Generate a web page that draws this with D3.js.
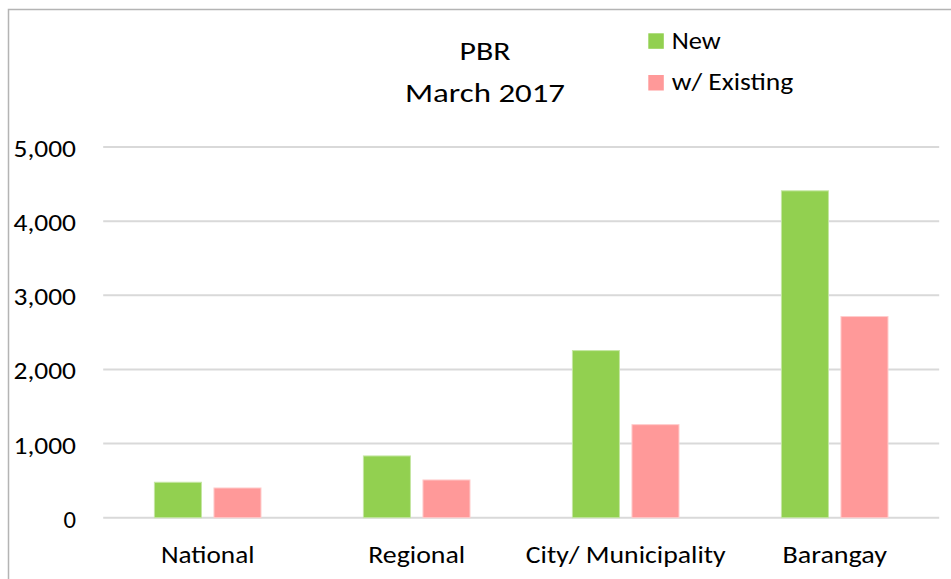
<!DOCTYPE html>
<html><head><meta charset="utf-8">
<script src="https://cdn.jsdelivr.net/npm/d3@7"></script>
<style>body{margin:0;background:#fff}svg{display:block}text{font-family:Carlito,Calibri,Lato,"Open Sans",sans-serif;fill:#000}</style>
</head><body><svg id="c" width="951" height="579"></svg>
<script>
const categories = ["National", "Regional", "City/ Municipality", "Barangay"];
const seriesNames = ["New", "w/ Existing"];
const newValues = [478, 833, 2254, 4409];
const existingValues = [401, 509, 1255, 2713];
const yTicks = [0, 1000, 2000, 3000, 4000, 5000];
const titleLines = ["PBR", "March 2017"];
const colors = ["#92d050", "#ff9999"];
const strokes = ["#c5e6a3", "#ffcccc"];

const FONT = "Carlito,Calibri,Lato,'Open Sans',sans-serif";
// target rendered widths (to mimic the reference typeface)
const xLabelW = {"National":93.5, "Regional":97, "City/ Municipality":200, "Barangay":104.6};
const yLabelW = d => d === 0 ? 12.5 : 62.5;

const svg = d3.select("#c");
svg.append("path").attr("d","M8.5,579 L8.5,9.5 L951,9.5").attr("fill","none").attr("stroke","#b4b4b4").attr("stroke-width",1.5);

const x0 = d3.scaleBand().domain(categories).range([103.2, 939.2]).paddingInner(0).paddingOuter(0);
const x1 = d3.scaleBand().domain(seriesNames).range([51.2, 209-51.2]).paddingInner(0.21);
const y = d3.scaleLinear().domain([0,5000]).range([517.7,147]);

svg.append("g").selectAll("line").data(yTicks).join("line")
  .attr("x1",103.2).attr("x2",939.2).attr("y1",d=>y(d)).attr("y2",d=>y(d))
  .attr("stroke","#d9d9d9").attr("stroke-width",2);

const yAxis = d3.axisLeft(y).tickValues(yTicks).tickFormat(d3.format(",")).tickSize(0).tickPadding(0);
const ya = svg.append("g").attr("transform","translate(76,0)").call(yAxis);
ya.select(".domain").remove();
ya.selectAll("text").attr("font-size",25).attr("font-family",FONT).attr("fill","#000").attr("dy","0.38em")
  .attr("textLength",d=>yLabelW(d)).attr("lengthAdjust","spacingAndGlyphs");

const data = categories.map((c,i)=>({c, vals:[newValues[i], existingValues[i]]}));
const g = svg.append("g").selectAll("g").data(data).join("g").attr("transform",d=>`translate(${x0(d.c)},0)`);
g.selectAll("rect").data(d=>d.vals.map((v,j)=>({s:seriesNames[j], v, j}))).join("rect")
  .attr("x",d=>x1(d.s)).attr("width",x1.bandwidth())
  .attr("y",d=>y(d.v)).attr("height",d=>y(0)-y(d.v))
  .attr("fill",d=>colors[d.j]).attr("stroke",d=>strokes[d.j]).attr("stroke-width",1);

const xAxis = d3.axisBottom(x0).tickSize(0).tickPadding(0);
const xa = svg.append("g").attr("transform","translate(0,563.3)").call(xAxis);
xa.select(".domain").remove();
xa.selectAll("text").attr("font-size",25.5).attr("font-family",FONT).attr("fill","#000").attr("dy","0")
  .attr("textLength",d=>xLabelW[d]).attr("lengthAdjust","spacingAndGlyphs");

const titleW = [51, 160];
svg.append("g").selectAll("text").data(titleLines).join("text")
  .attr("x",485).attr("y",(d,i)=>59.5+i*42.2).attr("text-anchor","middle").attr("font-size",26.5)
  .attr("textLength",(d,i)=>titleW[i]).attr("lengthAdjust","spacingAndGlyphs").text(d=>d);

const legW = [49, 121.6];
const lg = svg.append("g").selectAll("g").data(seriesNames).join("g").attr("transform",(d,i)=>`translate(648.3,${33.3+i*41.7})`);
lg.append("rect").attr("width",15.5).attr("height",15.5).attr("fill",(d,i)=>colors[i]);
lg.append("text").attr("x",23.4).attr("y",15.2).attr("font-size",24.5)
  .attr("textLength",(d,i)=>legW[i]).attr("lengthAdjust","spacingAndGlyphs").text(d=>d);
</script></body></html>
